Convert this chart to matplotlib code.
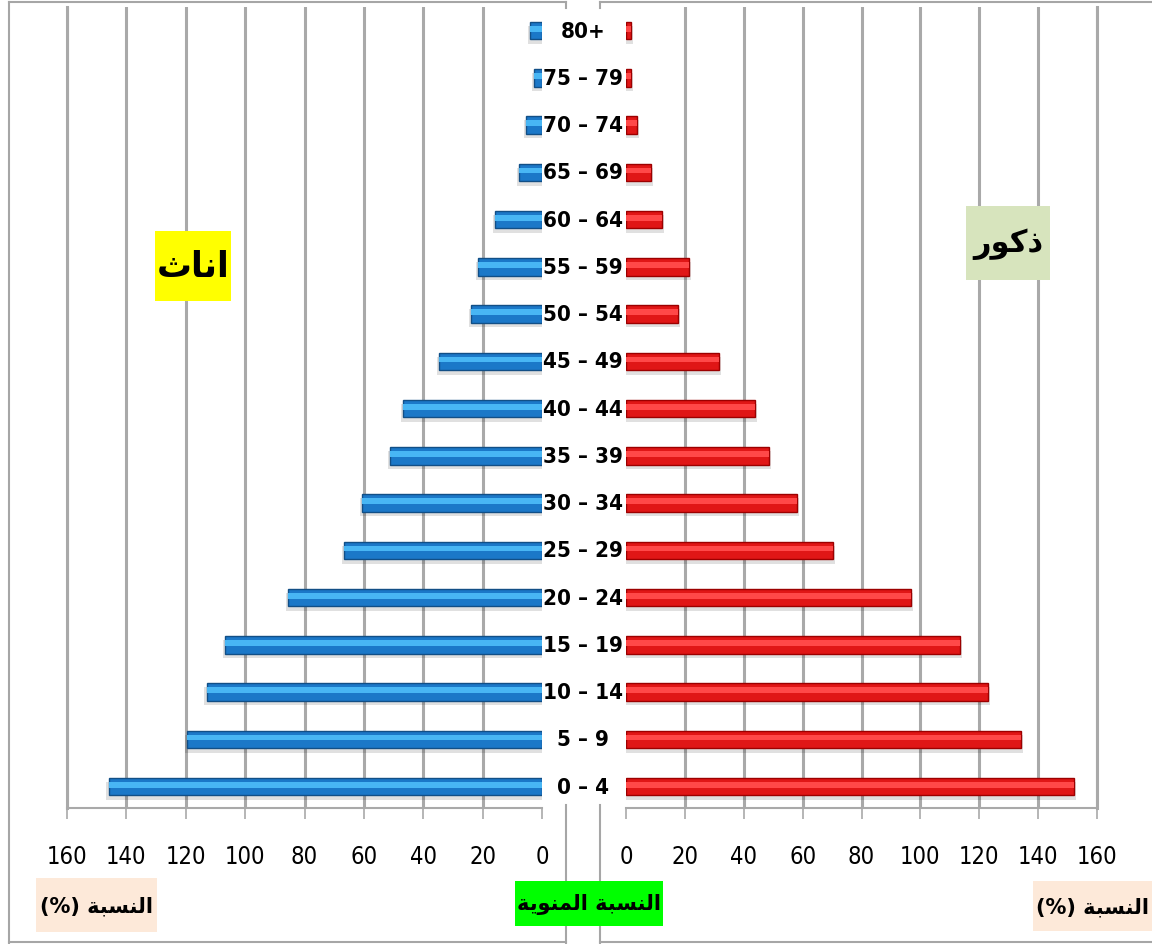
import matplotlib
matplotlib.use("Agg")
import matplotlib.pyplot as plt
import matplotlib.transforms as mtransforms
from matplotlib import font_manager
from matplotlib.lines import Line2D
from matplotlib.patches import Rectangle

# age groups, bottom to top
ages = ['0 – 4', '5 – 9', '10 – 14', '15 – 19', '20 – 24', '25 – 29', '30 – 34',
        '35 – 39', '40 – 44', '45 – 49', '50 – 54', '55 – 59', '60 – 64',
        '65 – 69', '70 – 74', '75 – 79', '80+']
females = [146, 119.5, 113, 106.7, 85.5, 66.7, 60.6, 51.2, 46.8, 34.7,
           23.9, 21.5, 15.8, 7.7, 5.4, 2.7, 4]
males = [152.2, 134.2, 123, 113.5, 96.8, 70.3, 58.1, 48.6, 43.8, 31.6,
         17.7, 21.4, 12.2, 8.5, 3.7, 1.7, 1.7]
xticks = [0, 20, 40, 60, 80, 100, 120, 140, 160]

# arabic labels, written in visual order with presentation forms
# (matplotlib has no shaping / bidi)
lbl_female = '\uFE99\uFE8E\uFEE7\uFE8D'                 # اناث
lbl_male = '\uFEAD\uFEEE\uFEDB\uFEAB'                   # ذكور
w_nisba = '\uFE94\uFE92\uFEB4\uFEE8\uFEDF\uFE8D'        # النسبة
w_mia = '\uFE94\uFEF3\uFEEE\uFEE8\uFEE4\uFEDF\uFE8D'    # المنوية
lbl_pct = '(%) ' + w_nisba
lbl_mid = w_mia + ' ' + w_nisba

# look for a condensed face for the numbers
files = [f.fname for f in font_manager.fontManager.ttflist]
def find_font(keys, default):
    for k in keys:
        for fn in files:
            if k.lower() in fn.lower().replace('-', '').replace('_', ''):
                return font_manager.FontProperties(fname=fn)
    return font_manager.FontProperties(family=default)

fp_num = find_font(['LiberationSansNarrowRegular', 'DejaVuSansCondensed.ttf'], 'Liberation Sans')
fp_age = find_font(['LiberationSansNarrowBold.', 'DejaVuSansCondensedBold.'], 'Liberation Sans')

W, H = 1152, 945
fig = plt.figure(figsize=(W / 100, H / 100), dpi=100)
fig.patch.set_facecolor('white')

def fx(px):
    return px / W

def fy(py):
    return 1 - py / H

top, bot = 8, 809
ax_l = fig.add_axes([fx(67), fy(bot), fx(542 - 67), (bot - top) / H])
ax_r = fig.add_axes([fx(626), fy(bot), fx(1097 - 626), (bot - top) / H])

y = list(range(len(ages)))
grid_c = '#a9a9a9'

def draw_bars(ax, vals, base, light, dark):
    sh = [v + 0.8 for v in vals]
    ax.barh([i - 0.09 for i in y], sh, height=0.38, color='#000000', alpha=0.12,
            zorder=2, linewidth=0)
    ax.barh(y, vals, height=0.37, color=base, edgecolor=dark, linewidth=1.0, zorder=3)
    ax.barh([i + 0.04 for i in y], vals, height=0.12, color=light, linewidth=0, zorder=4)

draw_bars(ax_l, females, '#1b78c8', '#48b6f4', '#124f86')
draw_bars(ax_r, males, '#e01616', '#ff4848', '#9c0000')

for ax in (ax_l, ax_r):
    ax.set_xlim(0, 160)
    ax.set_ylim(-0.45, 16.5)
    ax.set_xticks(xticks)
    ax.set_xticklabels([str(t) for t in xticks])
    for t in ax.get_xticklabels():
        t.set_fontproperties(fp_num)
        t.set_fontsize(17)
    ax.set_yticks([])
    ax.tick_params(axis='x', direction='out', length=8, width=1.2, color=grid_c, pad=18)
    ax.grid(axis='x', color=grid_c, linewidth=2.2, zorder=0)
    ax.set_axisbelow(True)
    for s in ax.spines.values():
        s.set_visible(False)
    ax.spines['bottom'].set_visible(True)
    ax.spines['bottom'].set_color(grid_c)
    ax.spines['bottom'].set_linewidth(1.5)
    ax.get_xgridlines()[0].set_visible(False)

ax_l.invert_xaxis()
ax_l.spines['left'].set_visible(True)
ax_l.spines['left'].set_color(grid_c)
ax_l.spines['left'].set_linewidth(2.2)
ax_r.spines['right'].set_visible(True)
ax_r.spines['right'].set_color(grid_c)
ax_r.spines['right'].set_linewidth(2.2)

# age labels in the middle
tr = mtransforms.blended_transform_factory(fig.transFigure, ax_l.transData)
for i, a in enumerate(ages):
    t = ax_l.text(fx(583), i, a, transform=tr, ha='center', va='center',
                  fontproperties=fp_age, clip_on=False, zorder=6)
    t.set_fontsize(16)

# chart borders
bc = '#a6a6a6'
for xs, ys in [([9, 9], [3, 945]), ([9, 566], [3, 3]), ([566, 566], [3, 9]),
               ([566, 566], [806, 945]), ([600, 1152], [3, 3]), ([600, 600], [3, 9]),
               ([600, 600], [806, 945]), ([9, 566], [943, 943]), ([600, 1152], [943, 943])]:
    fig.add_artist(Line2D([fx(v) for v in xs], [fy(v) for v in ys], color=bc,
                          linewidth=1.5, transform=fig.transFigure))

def box_label(x0, y0, x1, y1, txt, fc, size):
    fig.add_artist(Rectangle((fx(x0), fy(y1)), fx(x1 - x0), (y1 - y0) / H,
                             facecolor=fc, edgecolor='none', transform=fig.transFigure,
                             zorder=5))
    fig.text(fx((x0 + x1) / 2), fy((y0 + y1) / 2), txt, ha='center', va='center',
             fontsize=size, fontweight='bold', family='DejaVu Sans', zorder=6)

box_label(155, 232, 231, 302, lbl_female, '#ffff00', 25)
box_label(966, 207, 1050, 281, lbl_male, '#d7e4bd', 22)
box_label(36, 879, 157, 933, lbl_pct, '#fde9d9', 15)
box_label(1033, 882, 1152, 932, lbl_pct, '#fde9d9', 15)
box_label(515, 882, 663, 927, lbl_mid, '#00ff00', 15)

fig.savefig('out.png', dpi=100)
